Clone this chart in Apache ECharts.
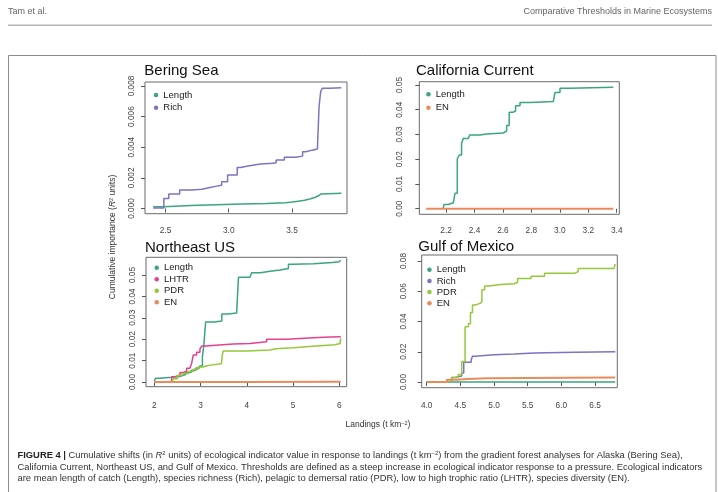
<!DOCTYPE html>
<html><head><meta charset="utf-8">
<script src="https://cdn.jsdelivr.net/npm/echarts@6/dist/echarts.min.js"></script>
<style>html,body{margin:0;padding:0;background:#fff}#c{width:718px;height:492px}</style>
</head><body><div id="c"></div>
<script>
// ---------------- data (landings t km^-2, cumulative importance R^2) ----------------
const beringLength = [[2.403,0.00012],[2.487,0.00020],[2.70,0.00025],[2.90,0.00029],[3.10,0.00033],[3.30,0.00037],[3.45,0.00042],[3.50,0.00048],[3.55,0.00054],[3.60,0.00062],[3.64,0.00072],[3.68,0.00083],[3.71,0.00095],[3.73,0.00100],[3.89,0.00100]];
const beringRich = [[2.403,0.00004],[2.487,0.00065],[2.526,0.00094],[2.612,0.00120],[2.709,0.00126],[2.787,0.00137],[2.852,0.00146],[2.905,0.00152],[2.944,0.00174],[2.991,0.00218],[3.067,0.00268],[3.093,0.00277],[3.153,0.00290],[3.250,0.00295],[3.349,0.00299],[3.375,0.00316],[3.440,0.00334],[3.531,0.00342],[3.584,0.00370],[3.610,0.00381],[3.660,0.00388],[3.701,0.00392],[3.714,0.00665],[3.727,0.00763],[3.740,0.00785],[3.800,0.00788],[3.890,0.00791]];

const califLength = [[2.18,0.0000],[2.185,0.0017],[2.216,0.0024],[2.251,0.0031],[2.263,0.0062],[2.279,0.0201],[2.293,0.0217],[2.309,0.0264],[2.321,0.0284],[2.356,0.0288],[2.367,0.0298],[2.438,0.0302],[2.485,0.0306],[2.602,0.0309],[2.614,0.0314],[2.626,0.0336],[2.644,0.0390],[2.673,0.0395],[2.689,0.0416],[2.720,0.0429],[2.790,0.0433],[2.954,0.0439],[2.966,0.0470],[3.001,0.0487],[3.071,0.0491],[3.376,0.0492]];
const califEN = [[2.06,0.0000],[3.376,0.0000]];

const neLength = [[2.00,0.0005],[2.03,0.0017],[2.12,0.0022],[2.37,0.0026],[2.55,0.0035],[2.68,0.0045],[2.80,0.0055],[2.90,0.0065],[2.98,0.0075],[3.04,0.0120],[3.07,0.0170],[3.11,0.0280],[3.30,0.0285],[3.46,0.0318],[3.60,0.0322],[3.78,0.0326],[3.82,0.0489],[4.07,0.0495],[4.10,0.0510],[4.30,0.0518],[4.50,0.0523],[4.72,0.0530],[4.90,0.0550],[5.00,0.0553],[5.44,0.0558],[5.85,0.0562],[6.00,0.0569],[6.03,0.0570]];
const neLHTR = [[2.00,0.0000],[2.375,0.0025],[2.447,0.0033],[2.555,0.0044],[2.627,0.0052],[2.70,0.0064],[2.77,0.0072],[2.807,0.0087],[2.843,0.0126],[2.915,0.0139],[2.987,0.0154],[3.023,0.0168],[3.117,0.0173],[3.40,0.0177],[3.708,0.0180],[4.068,0.0188],[4.429,0.0200],[4.861,0.0207],[5.438,0.0210],[5.80,0.0212],[6.03,0.0215]];
const nePDR = [[2.00,0.0000],[2.30,0.0005],[2.40,0.0015],[2.50,0.0030],[2.60,0.0040],[2.75,0.0050],[2.85,0.0060],[2.95,0.0070],[3.05,0.0075],[3.12,0.0080],[3.25,0.0085],[3.45,0.0087],[3.47,0.0125],[3.49,0.0145],[4.00,0.0150],[4.50,0.0155],[4.62,0.0160],[5.00,0.0168],[5.50,0.0174],[5.90,0.0180],[6.02,0.0190],[6.03,0.0205]];
const neEN = [[2.00,0.0000],[4.00,0.0001],[6.03,0.0002]];

const gulfLength = [[4.00,0.0000],[6.80,0.0000]];
const gulfRich = [[4.00,0.0000],[4.33,0.0010],[4.37,0.0030],[4.42,0.0040],[4.52,0.0060],[4.55,0.0130],[4.66,0.0145],[4.68,0.0170],[4.72,0.0180],[5.00,0.0185],[5.30,0.0192],[5.60,0.0197],[6.20,0.0200],[6.80,0.0203]];
const gulfPDR = [[4.00,0.0000],[4.32,0.0010],[4.37,0.0030],[4.47,0.0050],[4.52,0.0135],[4.57,0.0365],[4.62,0.0385],[4.65,0.0460],[4.68,0.0510],[4.73,0.0520],[4.79,0.0530],[4.82,0.0610],[4.86,0.0635],[4.92,0.0645],[5.10,0.0650],[5.30,0.0660],[5.35,0.0685],[5.55,0.0700],[5.75,0.0720],[6.20,0.0730],[6.25,0.0750],[6.78,0.0760],[6.80,0.0780]];
const gulfEN = [[4.00,0.0000],[4.30,0.0015],[4.45,0.0020],[4.60,0.0025],[4.90,0.0027],[5.50,0.0029],[6.80,0.0030]];

// tick labels
const beringXTicks = [2.5, 3.0, 3.5];
const beringYTicks = [0, 0.002, 0.004, 0.006, 0.008];
const califXTicks = [2.2, 2.4, 2.6, 2.8, 3.0, 3.2, 3.4];
const califYTicks = [0, 0.01, 0.02, 0.03, 0.04, 0.05];
const neXTicks = [2, 3, 4, 5, 6];
const neYTicks = [0, 0.01, 0.02, 0.03, 0.04, 0.05];
const gulfXTicks = [4.0, 4.5, 5.0, 5.5, 6.0, 6.5];
const gulfYTicks = [0, 0.02, 0.04, 0.06, 0.08];

// ---------------- styling ----------------
const COLORS = {Length:'#3aa57e', Rich:'#7b74c2', LHTR:'#e8408e', PDR:'#95c83a', EN:'#eb8b5c'};
const FONT = "'Liberation Sans', Arial, sans-serif";

const panels = [
  {title:'Bering Sea', tx:144.3, ty:70.5,
   grid:{left:145, top:82, width:202, height:131.7}, x:[2.338,3.935], y:[-0.00034,0.00826],
   xt:beringXTicks, yt:beringYTicks, xd:1, yd:3, xm:13.2, ym:9,
   series:[['Length',beringLength],['Rich',beringRich]],
   lg:{left:153.8, top:89.5, gap:1.7}},
  {title:'California Current', tx:416, ty:70.5,
   grid:{left:419.3, top:81.7, width:200, height:132.6}, x:[2.012,3.418], y:[-0.00226,0.05133],
   xt:califXTicks, yt:califYTicks, xd:1, yd:2, xm:12.9, ym:15.5,
   series:[['Length',califLength],['EN',califEN]],
   lg:{left:426.2, top:88.8, gap:2.5}},
  {title:'Northeast US', tx:145, ty:248.1,
   grid:{left:146, top:257.3, width:200.7, height:129.4}, x:[1.8205,6.16], y:[-0.0022,0.05827],
   xt:neXTicks, yt:neYTicks, xd:0, yd:2, xm:15.5, ym:9.5,
   series:[['Length',neLength],['LHTR',neLHTR],['PDR',nePDR],['EN',neEN]],
   lg:{left:154.5, top:262.2, gap:0.5}},
  {title:'Gulf of Mexico', tx:418.3, ty:246.5,
   grid:{left:421.7, top:255, width:195.6, height:132.7}, x:[3.9257,6.8306], y:[-0.00377,0.084],
   xt:gulfXTicks, yt:gulfYTicks, xd:1, yd:2, xm:13.8, ym:13.9,
   series:[['Length',gulfLength],['Rich',gulfRich],['PDR',gulfPDR],['EN',gulfEN]],
   lg:{left:427.2, top:264.2, gap:0.2}}
];

const grid = [], xAxis = [], yAxis = [], series = [], legend = [], graphic = [];
panels.forEach((p, i) => {
  grid.push(Object.assign({show:true, borderColor:'#6a6a6a', borderWidth:1, backgroundColor:'transparent'}, p.grid));
  const common = {
    splitLine:{show:false}, axisLine:{show:false},
  };
  xAxis.push(Object.assign({}, common, {
    type:'value', gridIndex:i, min:p.x[0], max:p.x[1],
    axisTick:{show:true, length:4, customValues:p.xt, lineStyle:{color:'#555', width:1}},
    axisLabel:{customValues:p.xt, margin:p.xm, fontSize:8.3, fontFamily:FONT, color:'#444',
      formatter:(v)=>Number(v).toFixed(p.xd)}
  }));
  yAxis.push(Object.assign({}, common, {
    type:'value', gridIndex:i, min:p.y[0], max:p.y[1],
    axisTick:{show:true, length:4, customValues:p.yt, lineStyle:{color:'#555', width:1}},
    axisLabel:{customValues:p.yt, margin:p.ym, fontSize:8.3, fontFamily:FONT, color:'#444', rotate:90,
      formatter:(v)=>Number(v).toFixed(p.yd)}
  }));
  p.series.forEach(([name, data]) => {
    series.push({
      type:'line', name, xAxisIndex:i, yAxisIndex:i, data, step:'end',
      symbol:'none', showSymbol:false, silent:true, animation:false,
      lineStyle:{color:COLORS[name], width: name==='EN' ? 2 : 1.5},
      itemStyle:{color:COLORS[name]}
    });
  });
  legend.push({
    orient:'vertical', left:p.lg.left, top:p.lg.top, padding:0, itemGap:p.lg.gap,
    itemWidth:4.5, itemHeight:4.5, icon:'circle', selectedMode:false,
    data:p.series.map(s=>s[0]),
    textStyle:{fontSize:9.5, fontFamily:FONT, color:'#222', lineHeight:11}
  });
  graphic.push({type:'text', x:p.tx, y:p.ty, silent:true,
    style:{text:p.title, fontSize:15, fontFamily:FONT, fill:'#111', align:'left', verticalAlign:'middle', textAlign:'left', textVerticalAlign:'middle'}});
});

// page decoration: header, frame, axis titles, caption
graphic.push(
  {type:'text', x:8, y:12, silent:true, style:{text:'Tam et al.', fontSize:9, fontFamily:FONT, fill:'#666', align:'left', verticalAlign:'middle'}},
  {type:'text', x:712, y:12, silent:true, style:{text:'Comparative Thresholds in Marine Ecosystems', fontSize:9, fontFamily:FONT, fill:'#666', align:'right', verticalAlign:'middle', textAlign:'right'}},
  {type:'rect', silent:true, shape:{x:8, y:24.5, width:704, height:1.5}, style:{fill:'#b5b5b5'}},
  {type:'rect', silent:true, shape:{x:8.5, y:55.5, width:707.5, height:460}, style:{fill:'none', stroke:'#8a8a8a', lineWidth:1}},
  {type:'text', x:378, y:425, silent:true, style:{
    text:'Landings (t km{s|−2})', fontSize:8.5, fontFamily:FONT, fill:'#333', align:'center', verticalAlign:'middle', textAlign:'center',
    rich:{s:{fontSize:5.5, fontFamily:FONT, fill:'#333', verticalAlign:'top', lineHeight:10}}}},
  {type:'text', x:113, y:237, rotation:Math.PI/2, silent:true, style:{
    text:'Cumulative importance ({i|R}{s|2} units)', fontSize:8.5, fontFamily:FONT, fill:'#333', align:'center', verticalAlign:'middle', textAlign:'center',
    rich:{i:{fontSize:8.5, fontStyle:'italic', fontFamily:FONT, fill:'#333'}, s:{fontSize:5.5, fontFamily:FONT, fill:'#333', verticalAlign:'top', lineHeight:10}}}}
);

const CAP = 9.4;
const capRich = {
  b:{fontWeight:'bold', fontSize:CAP, fontFamily:FONT, fill:'#222', lineHeight:11},
  i:{fontStyle:'italic', fontSize:CAP, fontFamily:FONT, fill:'#333', lineHeight:11},
  s:{fontSize:6, fontFamily:FONT, fill:'#333', verticalAlign:'top', lineHeight:11}
};
const captionLines = [
  '{b|FIGURE 4 |} Cumulative shifts (in {i|R}{s|2} units) of ecological indicator value in response to landings (t km{s|−2}) from the gradient forest analyses for Alaska (Bering Sea),',
  'California Current, Northeast US, and Gulf of Mexico. Thresholds are defined as a steep increase in ecological indicator response to a pressure. Ecological indicators',
  'are mean length of catch (Length), species richness (Rich), pelagic to demersal ratio (PDR), low to high trophic ratio (LHTR), species diversity (EN).'
];
const capY = [455.5, 467, 478.5];
captionLines.forEach((t, k) => {
  graphic.push({type:'text', x:17.5, y:capY[k], silent:true, style:{
    text:t, fontSize:CAP, fontFamily:FONT, fill:'#333', align:'left', verticalAlign:'middle', lineHeight:11, rich:capRich}});
});

const chart = echarts.init(document.getElementById('c'), null, {renderer:'canvas'});
chart.setOption({
  animation:false, backgroundColor:'#ffffff',
  grid, xAxis, yAxis, series, legend, graphic
});
</script>
</body></html>
